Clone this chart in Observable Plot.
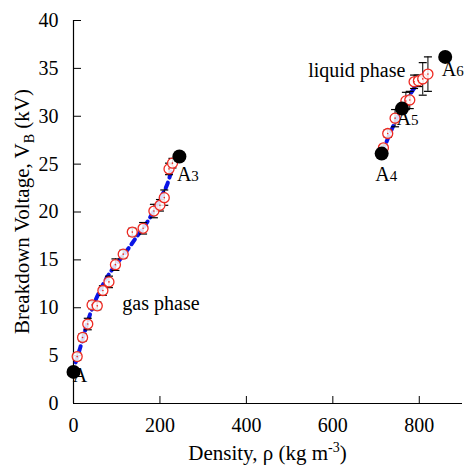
<!DOCTYPE html>
<html><head><meta charset="utf-8">
<script src="https://cdn.jsdelivr.net/npm/d3@7"></script>
<script src="https://cdn.jsdelivr.net/npm/@observablehq/plot@0.6"></script>
<style>body{margin:0;background:#fff} svg text{font-family:"Liberation Serif","Times New Roman",serif}</style>
</head><body><div id="chart"></div>
<script>
// Gas phase measurements
const gasX = [8.5, 21, 33, 43, 55, 68, 82, 97, 115, 136, 161, 186, 200, 210, 221, 229];
const gasY = [4.9, 6.9, 8.3, 10.3, 10.2, 11.8, 12.7, 14.5, 15.6, 17.9, 18.3, 20.1, 20.7, 21.5, 24.5, 25.1];
const gasErr = [0.4, 0.4, 0.6, 0.4, 0.4, 0.5, 0.6, 0.6, 0.4, 0.4, 0.6, 0.7, 0.6, 0.8, 0.6, 0.5];
// Liquid phase measurements
const liqX = [717, 727, 744, 769, 778, 788, 798, 808, 820];
const liqY = [26.7, 28.2, 29.8, 31.6, 31.7, 33.6, 33.7, 33.9, 34.4];
const liqErr = [0.3, 0.4, 0.9, 0.9, 0.9, 0.7, 0.6, 1.7, 1.8];
// Fit curves (blue dotted)
const gasFitX = [5, 16, 39, 58, 78, 93, 124, 143, 170, 201, 217, 228];
const gasFitY = [4.3, 5.9, 9.4, 11.5, 13.2, 14.2, 16.0, 17.2, 18.9, 21.4, 22.9, 24.6];
const liqFitX = [714, 721, 739, 760, 779, 795];
const liqFitY = [26.3, 27.0, 28.9, 30.8, 32.3, 33.4];
// Reference (black) points
const refX = [0, 245, 713, 760, 860];
const refY = [3.3, 25.8, 26.1, 30.8, 36.2];
const refName = ["A", "A", "A", "A", "A"];
const refSub = ["", "3", "4", "5", "6"];
// Ticks
const xTicks = [0, 200, 400, 600, 800];
const yTicks = [0, 5, 10, 15, 20, 25, 30, 35, 40];

const meas = gasX.map((x, i) => ({x, y: gasY[i], e: gasErr[i]}))
  .concat(liqX.map((x, i) => ({x, y: liqY[i], e: liqErr[i]})));
const gasFit = gasFitX.map((x, i) => ({x, y: gasFitY[i]}));
const liqFit = liqFitX.map((x, i) => ({x, y: liqFitY[i]}));
const refs = refX.map((x, i) => ({x, y: refY[i], name: refName[i], sub: refSub[i]}));

const cap = {draw(c) { c.moveTo(-4, 0); c.lineTo(4, 0); }};
const font = "Liberation Serif";

const plot = Plot.plot({
  width: 473, height: 466,
  marginLeft: 73, marginRight: 11, marginTop: 20, marginBottom: 63,
  style: {fontFamily: font, fontSize: "20px", background: "#fff", color: "#000"},
  x: {domain: [0, 900]},
  y: {domain: [0, 40]},
  marks: [
    Plot.axisX(xTicks, {tickSize: -7, text: null, label: null}),
    Plot.axisX(xTicks, {tickSize: 0, tickPadding: 14, label: null, fontSize: 20, fontFamily: font, tickFormat: d => d}),
    Plot.axisY(yTicks, {tickSize: -8, text: null, label: null}),
    Plot.axisY(yTicks, {tickSize: 0, tickPadding: 15, label: null, fontSize: 20, fontFamily: font, tickFormat: d => d}),
    Plot.ruleY([0], {x1: 0, x2: 900, stroke: "#000", strokeWidth: 1.2}),
    Plot.ruleX([0], {y1: 0, y2: 40, stroke: "#000", strokeWidth: 1.2}),
    Plot.line(gasFit, {x: "x", y: "y", stroke: "#0a14e6", strokeWidth: 4, strokeDasharray: "6,5", curve: "catmull-rom"}),
    Plot.line(liqFit, {x: "x", y: "y", stroke: "#0a14e6", strokeWidth: 4, strokeDasharray: "6,5", curve: "catmull-rom"}),
    Plot.ruleX(meas, {x: "x", y1: d => d.y - d.e, y2: d => d.y + d.e, stroke: "#000", strokeWidth: 1}),
    Plot.dot(meas, {x: "x", y: d => d.y + d.e, symbol: cap, r: 4, stroke: "#000", strokeWidth: 1.2}),
    Plot.dot(meas, {x: "x", y: d => d.y - d.e, symbol: cap, r: 4, stroke: "#000", strokeWidth: 1.2}),
    Plot.dot(meas, {x: "x", y: "y", r: 5, stroke: "#ee2a22", fill: "white", fillOpacity: 0.85, strokeWidth: 1.3}),
    Plot.dot(meas, {x: "x", y: "y", r: 0.8, fill: "#ee2a22", stroke: null}),
    Plot.dot(refs, {x: "x", y: "y", r: 7, fill: "#000", stroke: null}),
    Plot.text(["gas phase"], {x: 113, y: 10.4, text: d => d, textAnchor: "start", fontSize: 20, fontFamily: font}),
    Plot.text(["liquid phase"], {x: 543, y: 34.8, text: d => d, textAnchor: "start", fontSize: 20, fontFamily: font})
  ]
});

const svg = d3.select(plot);
const sx = plot.scale("x"), sy = plot.scale("y");
// Labels for reference points (pixel offsets from the point)
const offs = [[7, 11], [9, 25], [5, 28], [6, 17], [8, 20]];
refs.forEach((d, i) => {
  const t = svg.append("text")
    .attr("x", sx.apply(d.x) + offs[i][0])
    .attr("y", sy.apply(d.y) + offs[i][1])
    .attr("font-family", font).attr("font-size", 20).attr("fill", "#000");
  t.append("tspan").text(d.name);
  if (d.sub) t.append("tspan").attr("font-size", 15).text(d.sub);
});
// Y axis title with subscript
const yMid = (sy.apply(0) + sy.apply(40)) / 2;
const yl = svg.append("text")
  .attr("transform", `translate(29,${yMid}) rotate(-90)`)
  .attr("text-anchor", "middle")
  .attr("font-family", font).attr("font-size", 21).attr("fill", "#000");
yl.append("tspan").text("Breakdown Voltage, V");
yl.append("tspan").attr("font-size", 14).attr("dy", 5).text("B");
yl.append("tspan").attr("dy", -5).text(" (kV)");
// X axis title with superscript
const xMid = (sx.apply(0) + sx.apply(900)) / 2;
const xl = svg.append("text")
  .attr("x", xMid).attr("y", 460)
  .attr("text-anchor", "middle")
  .attr("font-family", font).attr("font-size", 21).attr("fill", "#000");
xl.append("tspan").text("Density, ρ (kg m");
xl.append("tspan").attr("font-size", 14).attr("dy", -8).text("-3");
xl.append("tspan").attr("dy", 8).text(")");

document.getElementById("chart").appendChild(plot);
</script>
</body></html>
